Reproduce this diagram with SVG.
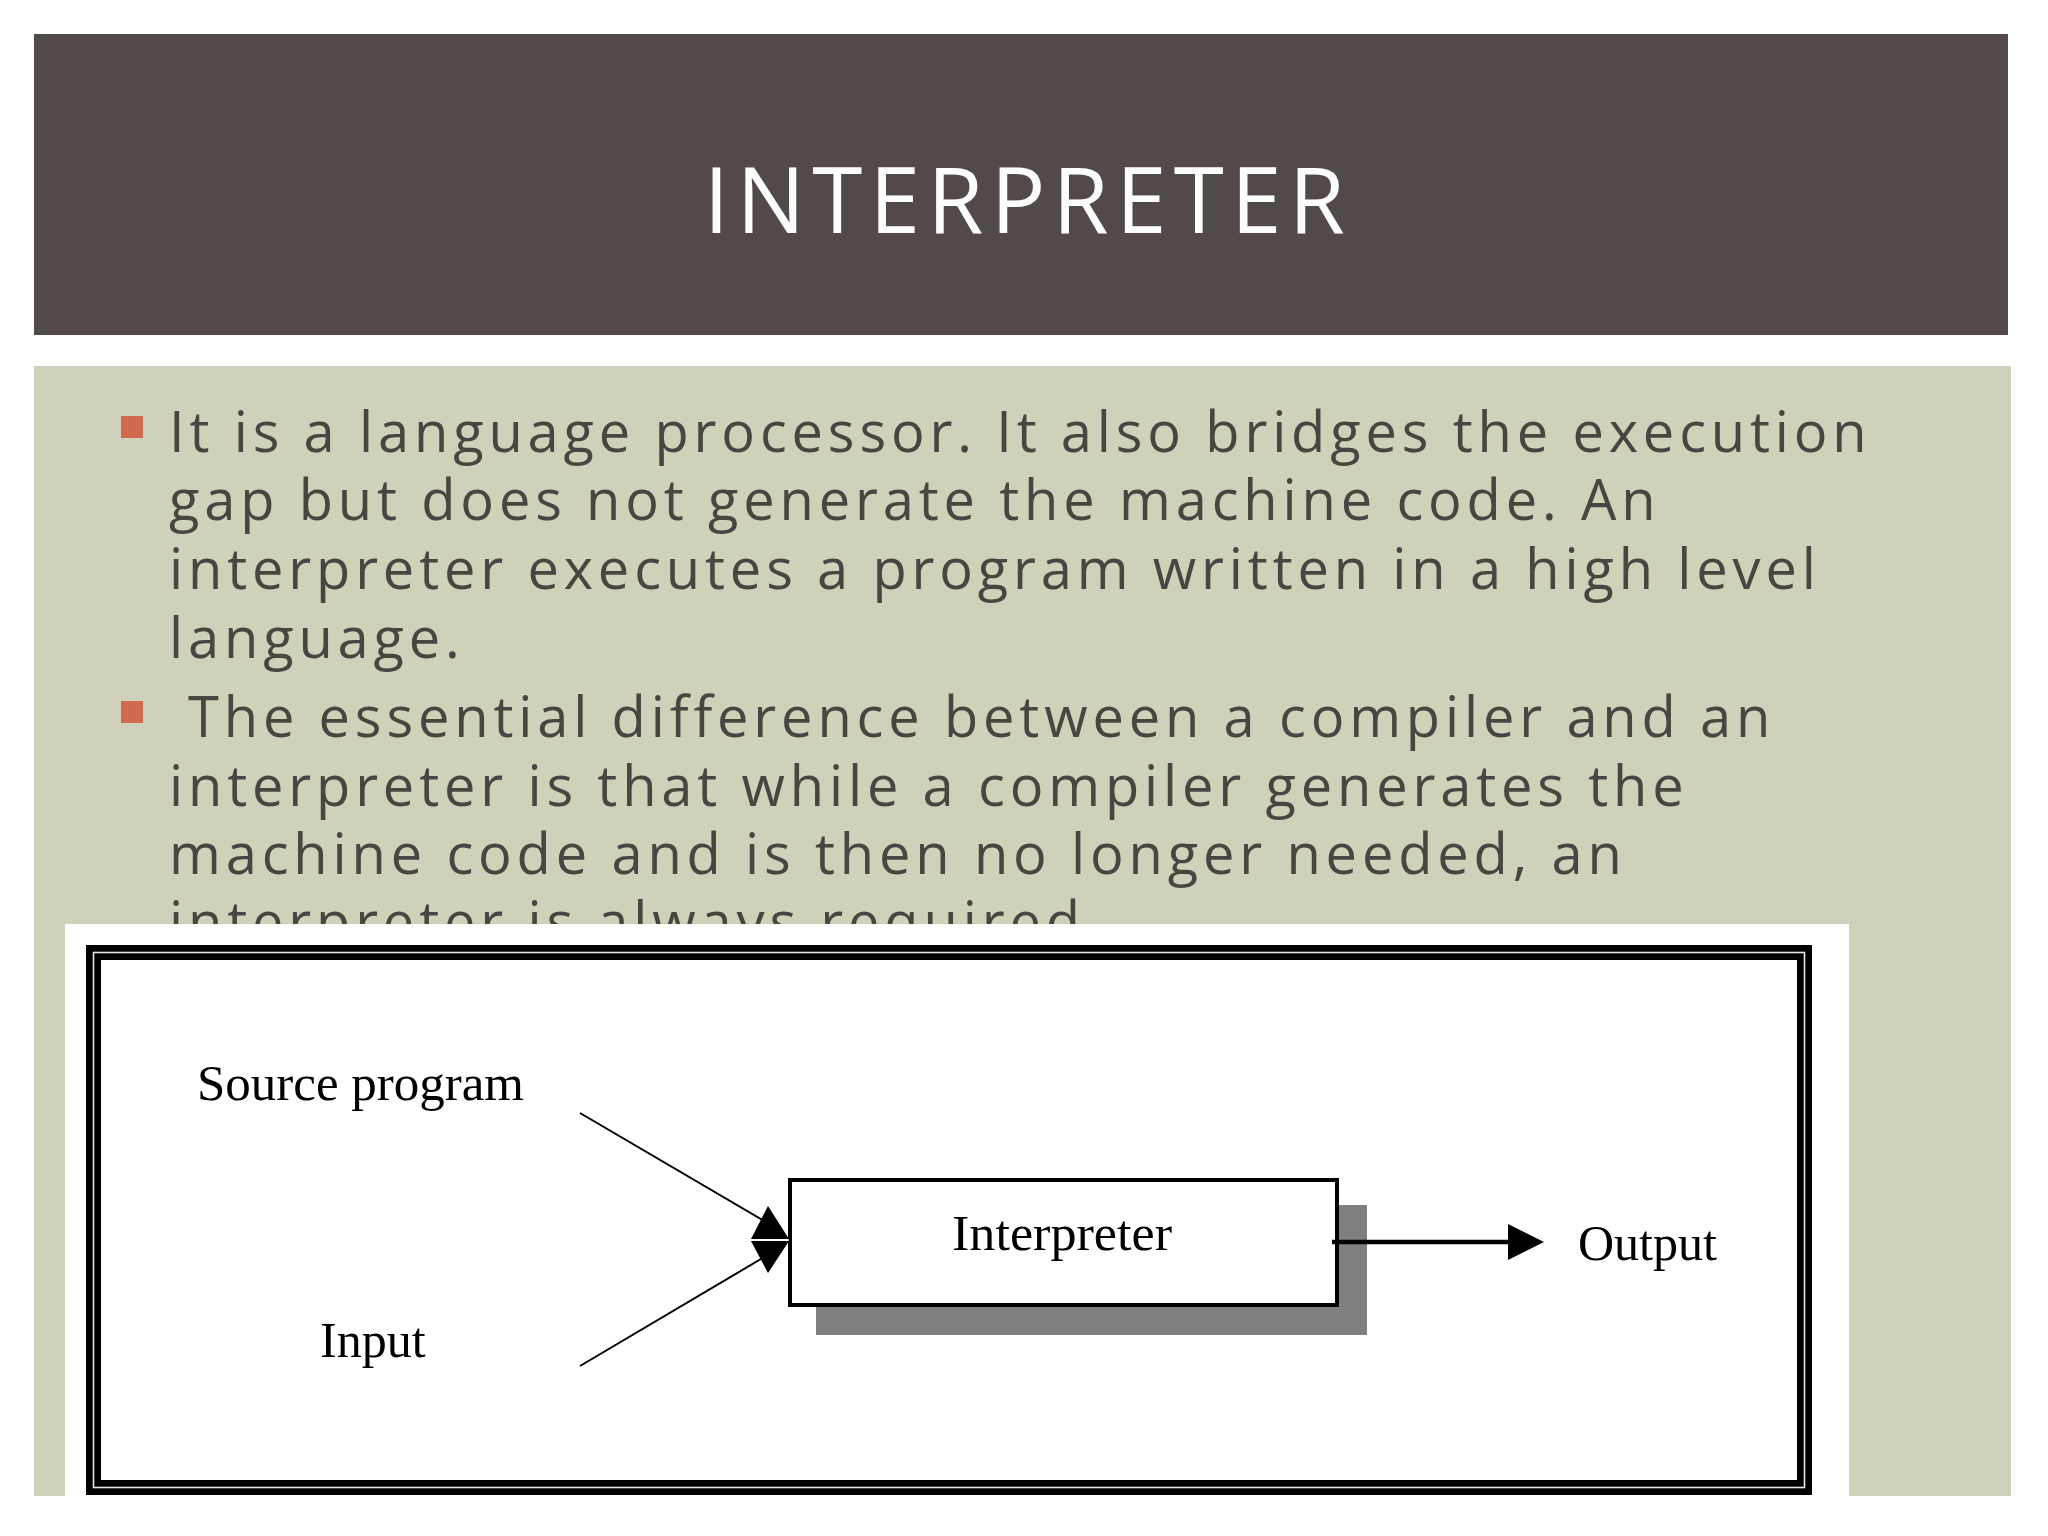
<svg xmlns="http://www.w3.org/2000/svg" width="2048" height="1536" viewBox="0 0 2048 1536">
  <defs>
    <style>
      .title { font-family: "Open Sans", "DejaVu Sans", sans-serif; font-size: 91px; fill: #fdfdfd; letter-spacing: 7.2px; }
      .body { font-family: "Open Sans", "DejaVu Sans", sans-serif; font-size: 56px; fill: #4b4541; letter-spacing: 4.85px; }
      .bullet { fill: #cf6a4f; }
      .lbl { font-family: "Liberation Serif", "Times New Roman", serif; font-size: 50px; fill: #000; }
      .conn { stroke: #000; stroke-width: 2; fill: none; }
      .head { fill: #000; }
    </style>
  </defs>
  <rect x="0" y="0" width="2048" height="1536" fill="#ffffff"/>
  <g id="title-bar">
    <rect x="34" y="34" width="1974" height="301" fill="#524949"/>
    <text class="title" x="1028" y="233" text-anchor="middle">INTERPRETER</text>
  </g>
  <g id="content">
    <rect x="34" y="366" width="1977" height="1130" fill="#cfd1bb"/>
    <rect class="bullet" x="121" y="416" width="22" height="22"/>
    <text class="body" x="169" y="452">It is a language processor. It also bridges the execution</text>
    <text class="body" x="169" y="520">gap but does not generate the machine code. An</text>
    <text class="body" x="169" y="589">interpreter executes a program written in a high level</text>
    <text class="body" x="169" y="658">language.</text>
    <rect class="bullet" x="121" y="701" width="22" height="22"/>
    <text class="body" x="188" y="737">The essential difference between a compiler and an</text>
    <text class="body" x="169" y="806">interpreter is that while a compiler generates the</text>
    <text class="body" x="169" y="874">machine code and is then no longer needed, an</text>
    <text class="body" x="169" y="942">interpreter is always required.</text>
  </g>
  <g id="figure">
    <rect x="65" y="924" width="1784" height="572" fill="#ffffff"/>
    <rect x="93.5" y="952.5" width="1711" height="535" fill="none" stroke="#000" stroke-width="15"/>
    <rect x="93.5" y="952.5" width="1711" height="535" fill="none" stroke="#e6e6e6" stroke-width="1.6"/>
  </g>
  <g id="node-source">
    <text class="lbl" x="197" y="1100" textLength="327" lengthAdjust="spacingAndGlyphs">Source program</text>
  </g>
  <g id="node-input">
    <text class="lbl" x="320" y="1357">Input</text>
  </g>
  <g id="node-interpreter">
    <rect x="816" y="1205" width="551" height="130" fill="#808080"/>
    <rect x="790" y="1180" width="547" height="125" fill="#ffffff" stroke="#000" stroke-width="4"/>
    <text class="lbl" x="952" y="1250" textLength="220" lengthAdjust="spacingAndGlyphs">Interpreter</text>
  </g>
  <g id="node-output">
    <text class="lbl" x="1578" y="1260">Output</text>
  </g>
  <g id="connectors">
    <line class="conn" x1="580" y1="1113" x2="766" y2="1222"/>
    <line class="conn" x1="580" y1="1366" x2="766" y2="1256"/>
    <polygon class="head" points="768,1206 789,1239 751,1239"/>
    <polygon class="head" points="751,1241 789,1241 768,1273"/>
    <line x1="752" y1="1240" x2="789" y2="1240" stroke="#ffffff" stroke-width="1.5"/>
    <line x1="1332" y1="1242" x2="1510" y2="1242" stroke="#000" stroke-width="4.5"/>
    <polygon class="head" points="1508,1224 1544,1242 1508,1260"/>
  </g>
</svg>
